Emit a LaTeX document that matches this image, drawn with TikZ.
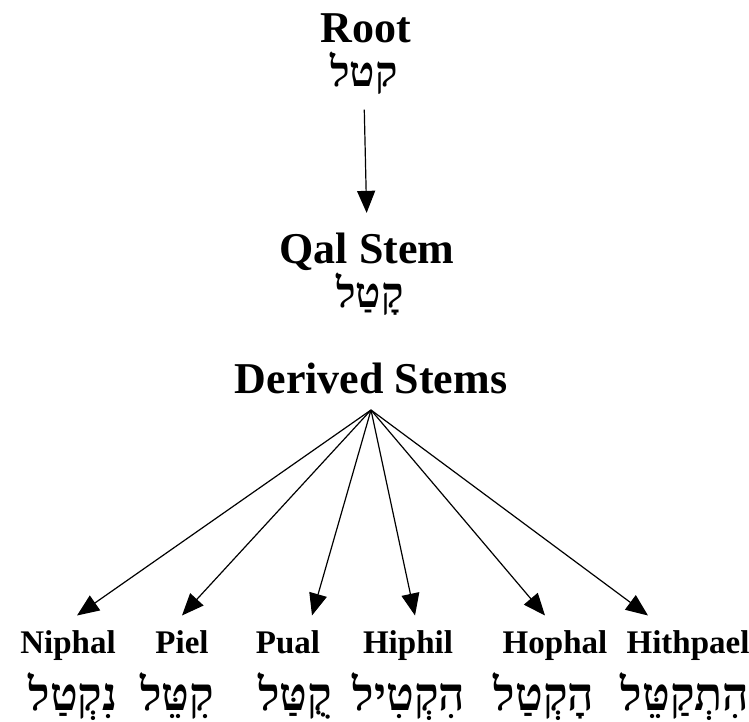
\documentclass[tikz,border=0pt]{standalone}
\usepackage{fontspec}
\setmainfont{Liberation Serif}
\newfontfamily\hebfont[Script=Hebrew]{Liberation Serif}
\TeXXeTstate=1
\usetikzlibrary{arrows.meta,positioning}
\newcommand{\heb}[1]{\beginR #1\endR}

\begin{document}
\begin{tikzpicture}[x=1pt,y=-1pt,>={Triangle[length=22pt,width=18pt]},line width=1.2pt]
\tikzstyle{stem}=[font=\bfseries\fontsize{44}{48}\selectfont,anchor=base,inner sep=3pt]
\tikzstyle{derived stem}=[font=\bfseries\fontsize{33}{36}\selectfont,anchor=base,text height=23pt,inner sep=3pt,outer sep=11.5pt]
\tikzstyle{heb}=[font=\hebfont\bfseries\fontsize{42}{46}\selectfont,anchor=base,inner sep=2pt]
\tikzstyle{derived heb}=[heb,font=\hebfont\bfseries\fontsize{46}{50}\selectfont]
\useasboundingbox (0,0) rectangle (749,722);

% root and qal
\node[stem] (root) at (366,43) {Root};
\node[heb] (rootheb) at (364,87) {\heb{קטל}};
\node[stem] (qal) at (367,263) {Qal Stem};
\node[heb] (qalheb) at (370,307) {\heb{קָטַל}};
\node[stem,text depth=0pt,outer sep=14pt] (derived) at (371,393) {Derived Stems};

% derived stems
\node[derived stem] (niphal) at (68,653) {Niphal};
\node[derived stem] (piel) at (182,653) {Piel};
\node[derived stem] (pual) at (288,653) {Pual};
\node[derived stem] (hiphil) at (408,653) {Hiphil};
\node[derived stem] (hophal) at (555,653) {Hophal};
\node[derived stem] (hithpael) at (688,653) {Hithpael};

\node[derived heb] (nipheb) at (73,710) {\heb{נִקְטַל}};
\node[derived heb] (pielheb) at (177,710) {\heb{קִטֵּל}};
\node[derived heb] (pualheb) at (295,710) {\heb{קֻטַּל}};
\node[derived heb] (hiphheb) at (409,710) {\heb{הִקְטִיל}};
\node[derived heb] (hophheb) at (544,710) {\heb{הָקְטַל}};
\node[derived heb] (hithheb) at (685,710) {\heb{הִתְקַטֵּל}};

\path[->]
  (rootheb.south) edge[shorten <=12pt,shorten >=16pt] (qal.north)
  (derived.south) edge ([xshift=9pt]niphal.north)
  (derived.south) edge (piel.north)
  (derived.south) edge ([xshift=24pt]pual.north)
  (derived.south) edge ([xshift=7pt]hiphil.north)
  (derived.south) edge ([xshift=-10pt]hophal.north)
  (derived.south) edge ([xshift=-40pt]hithpael.north);
\end{tikzpicture}
\end{document}
